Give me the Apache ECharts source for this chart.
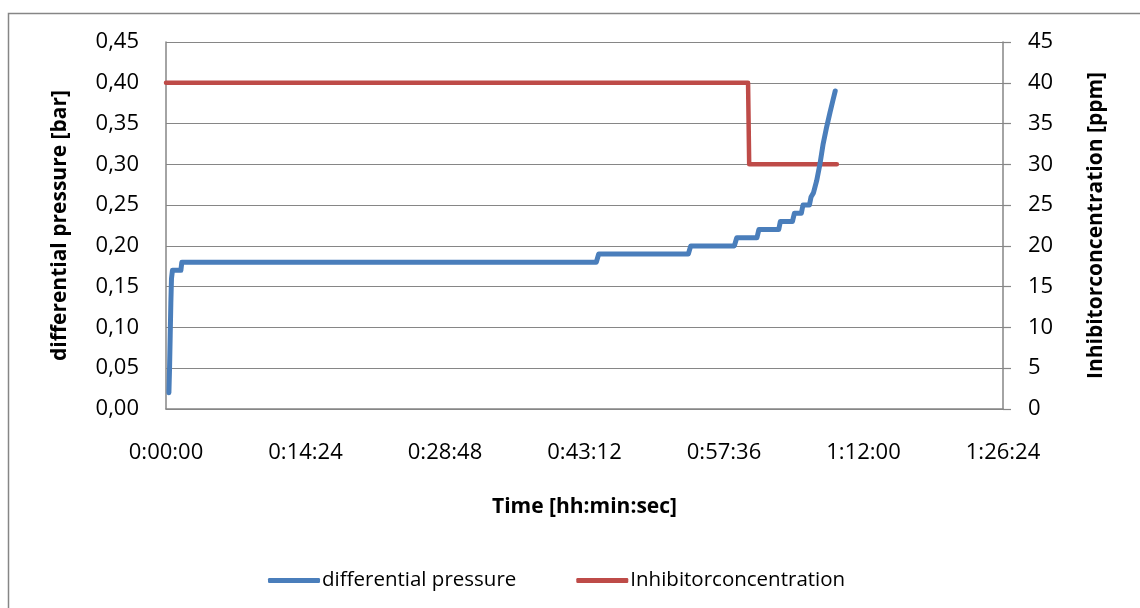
<!DOCTYPE html>
<html>
<head>
<meta charset="utf-8">
<script src="https://cdn.jsdelivr.net/npm/echarts@6/dist/echarts.min.js"></script>
<style>
  html, body { margin: 0; padding: 0; background: #ffffff; }
  #chart { width: 1140px; height: 608px; }
</style>
</head>
<body>
<div id="chart"></div>
<script>
// Elapsed time in seconds, differential pressure in bar
const pressureTimes = [18, 22, 26, 30, 34, 40, 92, 98, 2665, 2680, 3235, 3250, 3520, 3535, 3660, 3672, 3795, 3805, 3880, 3892, 3935, 3945, 3985, 3995, 4010, 4030, 4050, 4070, 4092, 4113, 4130, 4145];
const pressureValues = [0.02, 0.05, 0.09, 0.13, 0.16, 0.17, 0.17, 0.18, 0.18, 0.19, 0.19, 0.20, 0.20, 0.21, 0.21, 0.22, 0.22, 0.23, 0.23, 0.24, 0.24, 0.25, 0.25, 0.26, 0.265, 0.28, 0.30, 0.325, 0.346, 0.364, 0.378, 0.39];

// Elapsed time in seconds, inhibitor concentration in ppm
const inhibitorTimes = [0, 3605, 3612, 4155];
const inhibitorValues = [40, 40, 30, 30];

// Axis ranges
const timeMax = 5184;      // 1:26:24
const timeStep = 864;      // 0:14:24
const pressureMax = 0.45;
const pressureStep = 0.05;
const ppmMax = 45;
const ppmStep = 5;

const seriesNames = ['differential pressure', 'Inhibitorconcentration'];

function toClock(sec) {
  const s = Math.round(sec);
  const h = Math.floor(s / 3600);
  const m = Math.floor((s % 3600) / 60);
  const r = s % 60;
  return h + ':' + String(m).padStart(2, '0') + ':' + String(r).padStart(2, '0');
}

const zip = (xs, ys) => xs.map((x, i) => [x, ys[i]]);

const font = 'Open Sans';
const gray = '#868686';
const labelSize = 22;
const titleSize = 21;

const chart = echarts.init(document.getElementById('chart'), null, { renderer: 'canvas' });

chart.setOption({
  backgroundColor: '#ffffff',
  animation: false,
  textStyle: { fontFamily: font },
  graphic: [{
    type: 'rect',
    shape: { x: 8.5, y: 13.5, width: 1200, height: 700 },
    style: { fill: 'none', stroke: gray, lineWidth: 1.5 },
    silent: true
  }],
  grid: { left: 166, right: 137, top: 42, bottom: 199, containLabel: false },
  legend: {
    left: 263,
    top: 565,
    icon: 'roundRect',
    itemWidth: 52,
    itemHeight: 5,
    itemGap: 60,
    textStyle: { fontFamily: font, fontSize: 20.5, color: '#000000', padding: [0, 0, 0, -3] },
    data: seriesNames
  },
  xAxis: {
    type: 'value',
    min: 0,
    max: timeMax,
    interval: timeStep,
    name: 'Time [hh:min:sec]',
    nameLocation: 'middle',
    nameGap: 88,
    nameTextStyle: { fontFamily: font, fontSize: titleSize, fontWeight: 'bold', color: '#000000' },
    axisLine: { show: true, lineStyle: { color: gray, width: 1.5 } },
    axisTick: { show: false },
    splitLine: { show: false },
    axisLabel: {
      margin: 33,
      fontFamily: font,
      fontSize: labelSize,
      color: '#000000',
      formatter: v => toClock(v)
    }
  },
  yAxis: [{
    type: 'value',
    min: 0,
    max: pressureMax,
    interval: pressureStep,
    name: 'differential pressure [bar]',
    nameLocation: 'middle',
    nameGap: 95,
    nameRotate: 90,
    nameTextStyle: { fontFamily: font, fontSize: titleSize, fontWeight: 'bold', color: '#000000' },
    axisLine: { show: true, lineStyle: { color: gray, width: 1.5 } },
    axisTick: { show: false },
    splitLine: { show: true, lineStyle: { color: gray, width: 1.2 } },
    axisLabel: {
      margin: 27,
      fontFamily: font,
      fontSize: labelSize,
      color: '#000000',
      formatter: v => v.toFixed(2).replace('.', ',')
    }
  }, {
    type: 'value',
    position: 'right',
    min: 0,
    max: ppmMax,
    interval: ppmStep,
    name: 'Inhibitorconcentration [ppm]',
    nameLocation: 'middle',
    nameGap: 83,
    nameRotate: 90,
    nameTextStyle: { fontFamily: font, fontSize: titleSize, fontWeight: 'bold', color: '#000000' },
    axisLine: { show: true, lineStyle: { color: gray, width: 1.5 } },
    axisTick: { show: true, inside: false, length: 8, lineStyle: { color: gray, width: 1.2 } },
    splitLine: { show: false },
    axisLabel: {
      margin: 25,
      fontFamily: font,
      fontSize: labelSize,
      color: '#000000'
    }
  }],
  series: [{
    name: seriesNames[0],
    type: 'line',
    yAxisIndex: 0,
    data: zip(pressureTimes, pressureValues),
    symbol: 'none',
    smooth: false,
    itemStyle: { color: '#4A7EBB' },
    lineStyle: { color: '#4A7EBB', width: 5, cap: 'round', join: 'round' },
    z: 3
  }, {
    name: seriesNames[1],
    type: 'line',
    yAxisIndex: 1,
    data: zip(inhibitorTimes, inhibitorValues),
    symbol: 'none',
    itemStyle: { color: '#BE4B48' },
    lineStyle: { color: '#BE4B48', width: 4.5, cap: 'round', join: 'round' },
    z: 2
  }]
});
</script>
</body>
</html>
